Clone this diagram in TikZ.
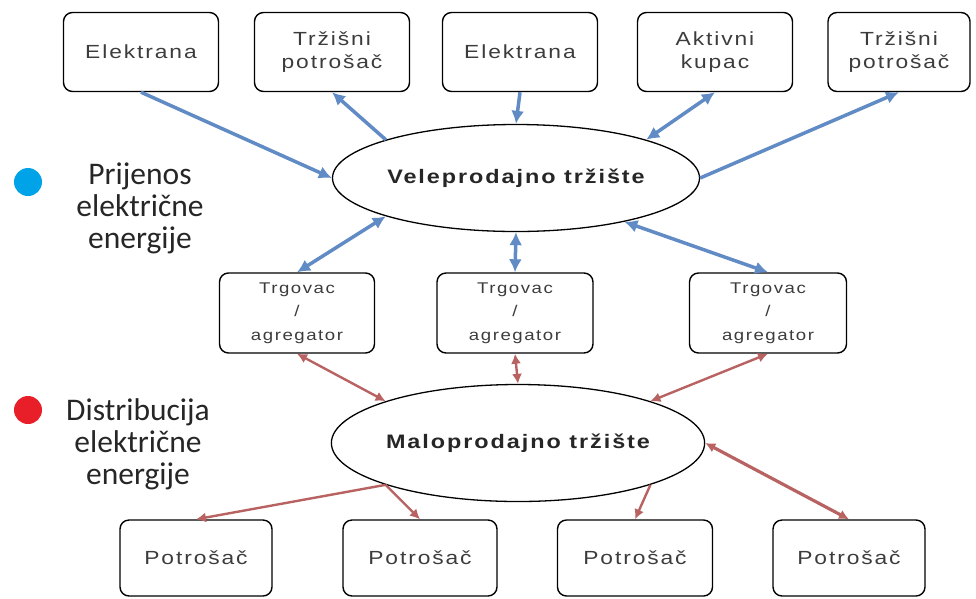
\documentclass[tikz,border=0pt]{standalone}
\usepackage{fontspec}
\usepackage{tikz}
\usetikzlibrary{arrows.meta,shapes.geometric}
\usepackage{xcolor}
\newfontfamily\okvirfont[FakeStretch=1.2,LetterSpace=10]{Liberation Sans}
\newfontfamily\legendafont{Carlito}
\definecolor{prijenosplava}{RGB}{96,139,196}
\definecolor{distribucijacrvena}{RGB}{184,98,98}
\definecolor{tockaplava}{RGB}{0,162,232}
\definecolor{tockacrvena}{RGB}{232,30,40}
\definecolor{tekstsiva}{RGB}{60,60,60}

\begin{document}
\begin{tikzpicture}[x=1pt,y=-1pt,
    okvir/.style={draw,line width=1.4pt,rounded corners=9pt,minimum width=155pt,
      minimum height=79pt,inner sep=0pt,align=center,text=tekstsiva,
      font=\okvirfont\fontsize{19}{23}\selectfont},
    maliokvir/.style={okvir,minimum height=80pt,font=\okvirfont\fontsize{15.5}{23.5}\selectfont},
    trziste/.style={draw,ellipse,line width=1.3pt,inner sep=0pt,text=black!85,
      font=\okvirfont\bfseries\fontsize{19.5}{23}\selectfont},
    plava/.style={draw=prijenosplava,line width=3.5pt,>={Latex[length=13pt,width=13pt]}},
    crvena/.style={draw=distribucijacrvena,line width=2.4pt,>={Latex[length=10pt,width=10pt]}},
    tocka/.style={circle,inner sep=0pt,minimum size=28pt},
    legenda/.style={align=center,text=black!85,font=\legendafont\fontsize{31.5}{32}\selectfont}]
    \useasboundingbox (0,0) rectangle (976,598);
    % Gornji red
    \node[okvir] (el1) at (141,52) {Elektrana};
    \node[okvir] (tp1) at (332,52) {Tržišni\\potrošač};
    \node[okvir] (el2) at (520,52) {Elektrana};
    \node[okvir] (ak) at (715,52) {Aktivni\\kupac};
    \node[okvir,minimum width=142pt] (tp2) at (899,52) {Tržišni\\potrošač};
    % Trzista
    \node[trziste,minimum width=367pt,minimum height=107pt] (vele) at (516,178) {Veleprodajno tržište};
    \node[trziste,minimum width=370pt,minimum height=117pt] (malo) at (518,443) {Maloprodajno tržište};
    % Trgovci
    \node[maliokvir] (tr1) at (297,313) {Trgovac\\/\\agregator};
    \node[maliokvir,minimum width=156pt] (tr2) at (515,313) {Trgovac\\/\\agregator};
    \node[maliokvir,minimum width=157pt] (tr3) at (768,313) {Trgovac\\/\\agregator};
    % Potrosaci
    \node[okvir,minimum width=152pt,minimum height=76pt] (po1) at (196,558) {Potrošač};
    \node[okvir,minimum width=154pt,minimum height=76pt] (po2) at (420,558) {Potrošač};
    \node[okvir,minimum width=155pt,minimum height=76pt] (po3) at (635,558) {Potrošač};
    \node[okvir,minimum width=152pt,minimum height=76pt] (po4) at (849,558) {Potrošač};
    % Legenda
    \node[tocka,fill=tockaplava] (dotp) at (28,182) {};
    \node[legenda] (prijenos) at (140,208) {Prijenos\\električne\\energije};
    \node[tocka,fill=tockacrvena] (dotd) at (28,410) {};
    \node[legenda] (distribucija) at (138,444) {Distribucija\\električne\\energije};
    % Prijenos (plavo)
    \draw[plava,->] (el1.south) -- (vele.west);
    \draw[plava,->] (vele.north west) -- (tp1.south);
    \draw[plava,->] (el2.south) -- (vele.north);
    \draw[plava,<->] (ak.south) -- (vele.north east);
    \draw[plava,->] (vele.east) -- (tp2.south);
    \draw[plava,<->] (vele.south west) -- (tr1.north);
    \draw[plava,<->] (vele.south) -- (tr2.north);
    \draw[plava,<->] (vele.-22) -- (tr3.north);
    % Distribucija (crveno)
    \draw[crvena,<->] (tr1.south) -- (malo.north west);
    \draw[crvena,<->] (tr2.south) -- (malo.north);
    \draw[crvena,<->] (tr3.south) -- (malo.north east);
    \draw[crvena,->] (malo.south west) -- (po1.north);
    \draw[crvena,->] (malo.south west) -- (po2.north);
    \draw[crvena,->] (malo.south east) -- (po3.north);
    \draw[crvena,<->,line width=3.2pt] (malo.east) -- (po4.north);
  \end{tikzpicture}
\end{document}
